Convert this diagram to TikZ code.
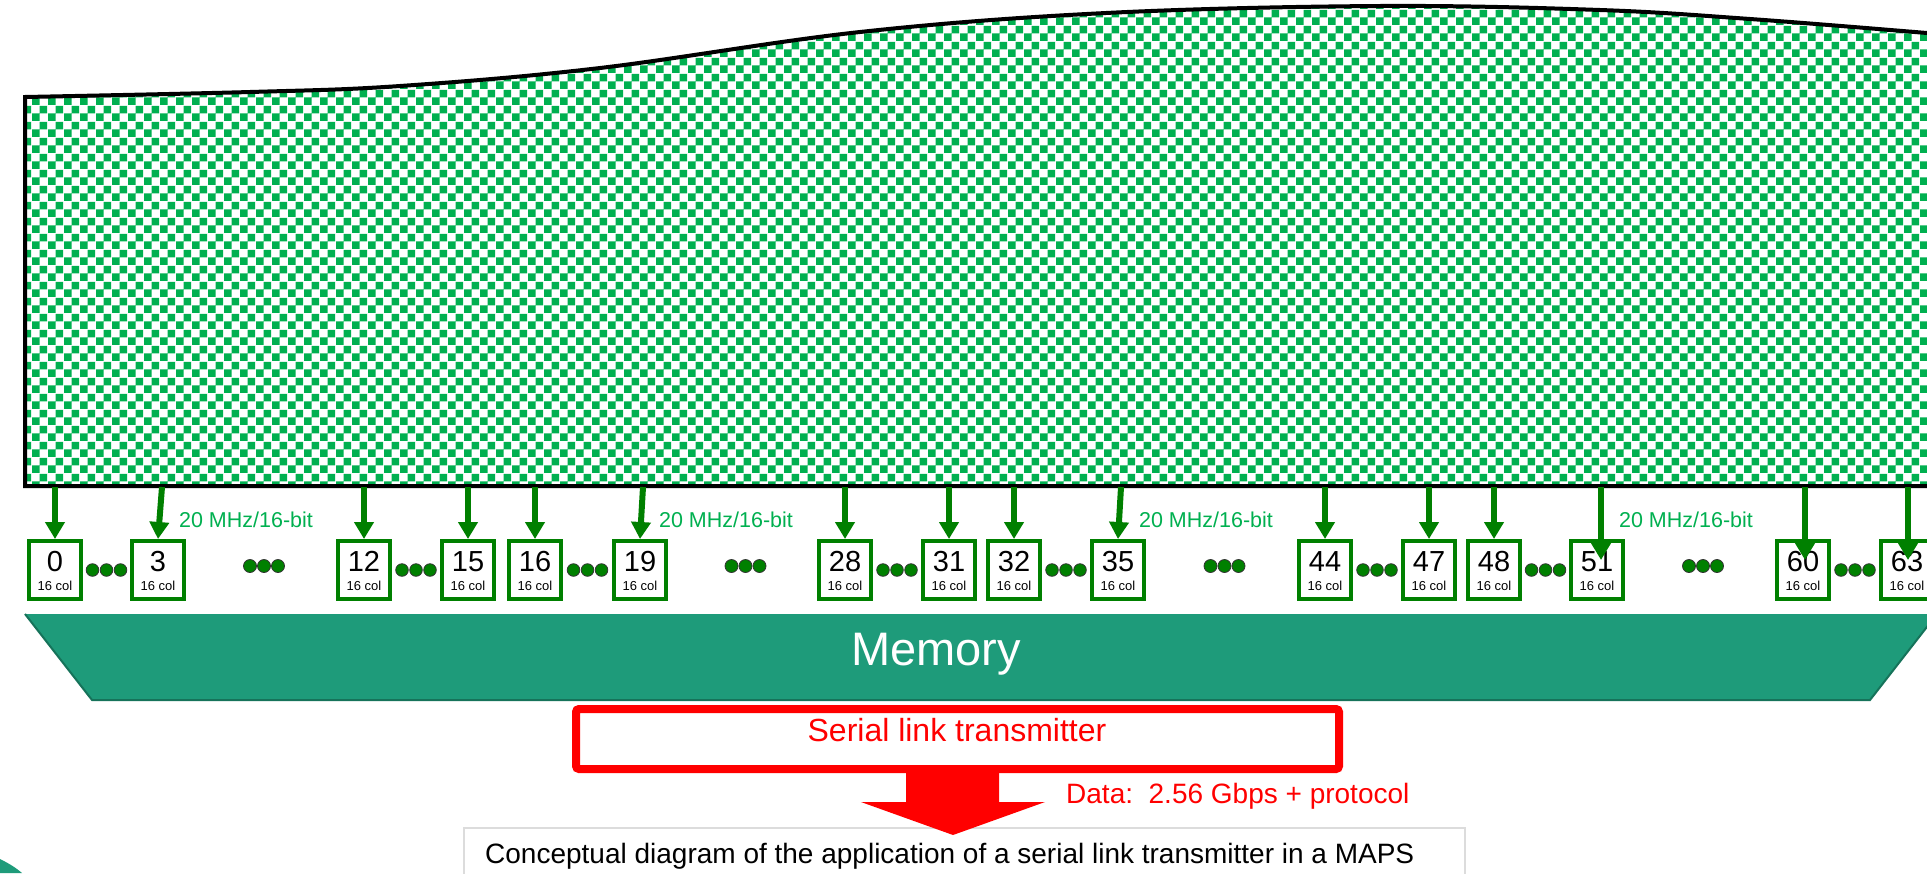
\documentclass[tikz,border=0pt]{standalone}
\usepackage{fontspec}
\setmainfont{Liberation Sans}
\usetikzlibrary{arrows.meta,patterns}
\definecolor{chk}{RGB}{0,176,80}
\definecolor{dkgreen}{RGB}{0,128,0}
\definecolor{lblgreen}{RGB}{0,176,80}
\definecolor{memteal}{RGB}{30,155,122}
\definecolor{memedge}{RGB}{22,115,90}
\definecolor{capgray}{RGB}{220,220,220}
\pgfdeclarepatternformonly{bigchecker}{\pgfpointorigin}{\pgfqpoint{16pt}{16pt}}{\pgfqpoint{16pt}{16pt}}{%
  \pgfpathrectangle{\pgfpointorigin}{\pgfqpoint{8pt}{8pt}}%
  \pgfpathrectangle{\pgfqpoint{8pt}{8pt}}{\pgfqpoint{8pt}{8pt}}%
  \pgfusepath{fill}}
\tikzset{
  colbox/.style={draw=dkgreen, line width=4pt, fill=white, minimum width=52pt, minimum height=58pt, inner sep=0pt},
  numtxt/.style={inner sep=0pt, anchor=base, font=\fontsize{29}{31}\selectfont},
  coltxt/.style={inner sep=0pt, anchor=base, font=\fontsize{13}{14}\selectfont},
  feed/.style={draw=dkgreen, line width=6pt, -{Triangle[width=19pt,length=17pt]}},
  ratelbl/.style={inner sep=0pt, anchor=base, text=lblgreen, font=\fontsize{21.5}{23}\selectfont},
  dotfill/.style={fill=dkgreen, draw=black!80, line width=0.8pt}
}
\begin{document}
\begin{tikzpicture}[x=1pt,y=-1pt]
\useasboundingbox (0,0) rectangle (1927,873);
\clip (0,0) rectangle (1927,873);
\fill[white] (0,0) rectangle (1927,873);
% checker block
\path[fill=white] (1960,486) -- (25,486) -- plot[smooth, tension=0.6] coordinates {(25,97) (250,92) (400,86) (600,68) (860,32) (1106,13) (1380,6) (1600,10) (1750,19) (1927,33) (1960,36)} -- cycle;
\path[pattern=bigchecker, pattern color=chk] (1960,486) -- (25,486) -- plot[smooth, tension=0.6] coordinates {(25,97) (250,92) (400,86) (600,68) (860,32) (1106,13) (1380,6) (1600,10) (1750,19) (1927,33) (1960,36)} -- cycle;
\draw[black, line width=4pt] (1960,486) -- (25,486) -- plot[smooth, tension=0.6] coordinates {(25,97) (250,92) (400,86) (600,68) (860,32) (1106,13) (1380,6) (1600,10) (1750,19) (1927,33) (1960,36)};
% memory
\fill[memteal] (25,614) -- (1937,614) -- (1870,700) -- (92,700) -- cycle;
\draw[memedge, line width=2pt] (25,614) -- (92,700) -- (1870,700) -- (1937,614);
\node[inner sep=0pt, anchor=base, text=white, font=\fontsize{47}{50}\selectfont] (mem) at (936,665) {Memory};
% bottom-left teal piece
\fill[memteal] (0,859) .. controls (8,863) and (15,867) .. (22,873) -- (0,873) -- cycle;
% column boxes
\foreach \n/\cx in {0/55,3/158,12/364,15/468,16/535,19/640,28/845,31/949,32/1014,35/1118,44/1325,47/1429,48/1494,51/1597,60/1803,63/1907}{
  \node[colbox] (b\n) at (\cx,570) {};
  \node[numtxt] (n\n) at ([yshift=-1pt]b\n.center) {\n};
  \node[coltxt] (c\n) at ([yshift=-20pt]b\n.center) {16 col};
}
% dots between paired boxes
\foreach \a/\b in {0/3,12/15,16/19,28/31,32/35,44/47,48/51,60/63}{
  \path (b\a.east) -- (b\b.west) coordinate[pos=0.5] (m\a);
  \fill[dotfill] ([xshift=-14pt]m\a) circle (6.3pt);
  \fill[dotfill] (m\a) circle (6.3pt);
  \fill[dotfill] ([xshift=14pt]m\a) circle (6.3pt);
}
% lone dots between groups
\foreach \a/\b in {3/12,19/28,35/44,51/60}{
  \path (b\a.east) -- (b\b.west) coordinate[pos=0.5] (g\a);
  \fill[dotfill] ([xshift=-11pt,yshift=4pt]g\a) circle (6.5pt);
  \fill[dotfill] ([xshift=3pt,yshift=4pt]g\a) circle (6.5pt);
  \fill[dotfill] ([xshift=17pt,yshift=4pt]g\a) circle (6.5pt);
}
% feed arrows
\foreach \n/\tx in {0/55,3/162,12/364,15/468,16/535,19/643,28/845,31/949,32/1014,35/1121,44/1325,47/1429,48/1494}{
  \coordinate (s\n) at (\tx,487);
  \draw[feed] (s\n) -- (b\n.north);
}
\foreach \n/\tx in {51/1601,60/1805,63/1908}{
  \coordinate (s\n) at (\tx,487);
  \coordinate (e\n) at (\tx,560);
  \draw[feed] (s\n) -- (e\n);
}
% rate labels
\node[ratelbl] (r1) at (246,527) {20 MHz/16-bit};
\node[ratelbl] (r2) at (726,527) {20 MHz/16-bit};
\node[ratelbl] (r3) at (1206,527) {20 MHz/16-bit};
\node[ratelbl] (r4) at (1686,527) {20 MHz/16-bit};
% serial link transmitter
\node[draw=red, line width=8pt, rounded corners=3pt, minimum width=763pt, minimum height=60pt, inner sep=0pt] (slt) at (957.5,739) {};
\node[inner sep=0pt, text=red, font=\fontsize{32}{34}\selectfont] (sltlbl) at (957,730.5) {Serial link transmitter};
% caption box
\node[draw=capgray, line width=1.5pt, minimum width=1001pt, minimum height=80pt, anchor=north west, inner sep=0pt] (capbox) at (463,827) {};
\node[inner sep=0pt, anchor=base west, font=\fontsize{28}{30}\selectfont] (captxt) at (485,863) {Conceptual diagram of the application of a serial link transmitter in a MAPS};
% red block arrow
\fill[red] (906,770) -- (906,802) -- (861,802) -- (953,835) -- (1045,802) -- (999,802) -- (999,770) -- cycle;
\node[inner sep=0pt, anchor=base west, text=red, font=\fontsize{28}{30}\selectfont] (datalbl) at (1066,803) {Data:\ \ 2.56 Gbps + protocol};
\end{tikzpicture}
\end{document}
